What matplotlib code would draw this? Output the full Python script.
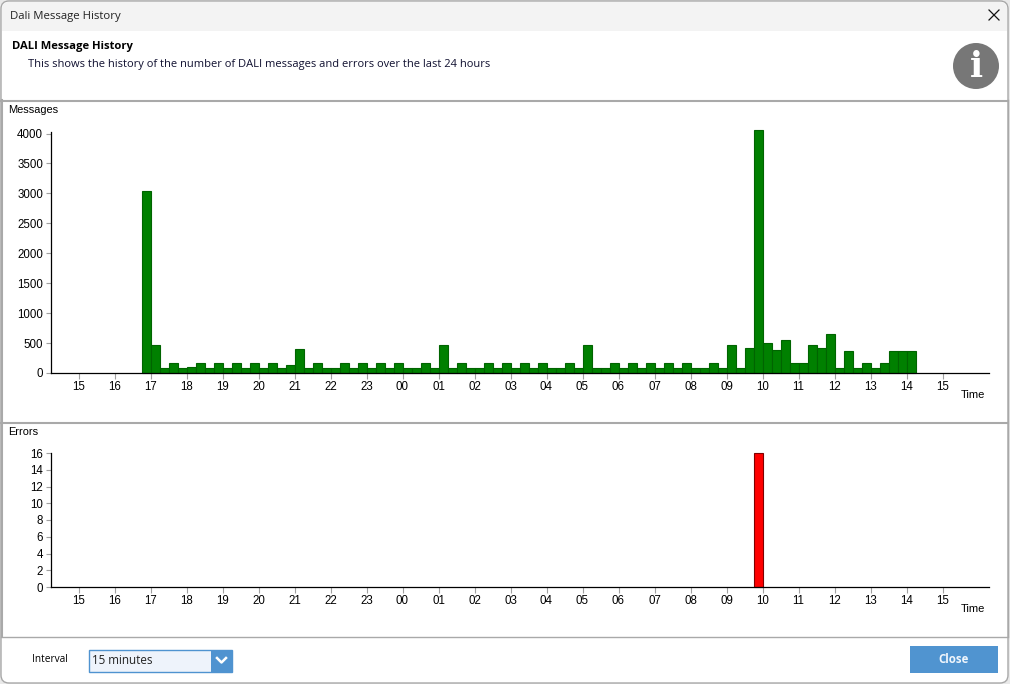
import matplotlib
matplotlib.use('Agg')
import matplotlib.pyplot as plt
from matplotlib.patches import Circle, FancyBboxPatch, Rectangle

# one value per 15 minute slot, first slot starts at 16:45
start_hour = 16.75
slot = 0.25
messages = [3040, 460, 80, 160, 80, 100, 160, 80, 160, 80, 160, 80, 160, 80, 160, 80,
            130, 400, 80, 160, 80, 80, 160, 80, 160, 80, 160, 80, 160, 80, 80, 160,
            80, 460, 80, 160, 80, 80, 160, 80, 160, 80, 160, 80, 160, 80, 80, 160,
            80, 460, 80, 80, 160, 80, 160, 80, 160, 80, 160, 80, 160, 80, 80, 160,
            80, 460, 80, 410, 4060, 500, 380, 550, 160, 160, 470, 420, 650, 80, 370, 80,
            160, 80, 160, 370, 370, 370]
error_hour = [33.75]
error_count = [16]

hour_ticks = list(range(15, 40))
hour_labels = ['%02d' % (h % 24) for h in hour_ticks]
msg_ticks = [0, 500, 1000, 1500, 2000, 2500, 3000, 3500, 4000]
err_ticks = [0, 2, 4, 6, 8, 10, 12, 14, 16]

W, H = 1010, 684
plt.rcParams['font.family'] = ['Liberation Sans', 'DejaVu Sans']
UI = ['Open Sans', 'DejaVu Sans']

fig = plt.figure(figsize=(W / 100, H / 100), dpi=100, facecolor='#e9e9e9')

# window chrome, in pixel coordinates
bg = fig.add_axes([0, 0, 1, 1])
bg.set_xlim(0, W)
bg.set_ylim(H, 0)
bg.axis('off')
bg.add_patch(FancyBboxPatch((1, 1), 1007, 682, boxstyle='round,pad=0,rounding_size=8',
                            fc='white', ec='#a8a8a8', lw=1))
bg.add_patch(FancyBboxPatch((2, 2), 1005, 29, boxstyle='round,pad=0,rounding_size=7',
                            fc='#f3f3f3', ec='none'))
bg.add_patch(Rectangle((2, 15), 1005, 16, fc='#f3f3f3', ec='none'))
bg.text(9.5, 16.5, 'Dali Message History', fontsize=8.2, family=UI, color='#222222', va='center')
bg.plot([989, 999], [10, 20], color='#111111', lw=0.9)
bg.plot([989, 999], [20, 10], color='#111111', lw=0.9)
bg.text(12, 46, 'DALI Message History', fontsize=8.1, family=UI, fontweight='bold', color='black', va='center')
bg.text(28, 64, 'This shows the history of the number of DALI messages and errors over the last 24 hours',
        fontsize=8.03, family=UI, color='#101030', va='center')
bg.add_patch(Circle((976, 66), 23, fc='#777777', ec='none'))
bg.text(976, 67, 'i', fontsize=25, family='DejaVu Serif', fontweight='bold', color='white', ha='center', va='center')

# panel separators
for y, lw in [(100.5, 1.5), (422.5, 1.5), (636.5, 1)]:
    bg.plot([1, 1008], [y, y], color='#a9a9a9', lw=lw)
bg.plot([1.5, 1.5], [100, 636], color='#a9a9a9', lw=1.5)
bg.plot([1007.5, 1007.5], [100, 636], color='#a9a9a9', lw=1)

bg.text(8, 110, 'Messages', fontsize=7.9, color='black', va='center')
bg.text(8, 432, 'Errors', fontsize=7.9, color='black', va='center')
bg.text(985, 395, 'Time', fontsize=8, color='black', ha='right', va='center')
bg.text(985, 609, 'Time', fontsize=8, color='black', ha='right', va='center')

# bottom controls
bg.text(32, 660, 'Interval', fontsize=7.3, family=UI, color='black', va='center')
bg.add_patch(Rectangle((88.5, 649.5), 143, 22, fc='#eef3fb', ec='#4f93d0', lw=1))
bg.add_patch(Rectangle((211, 649.5), 21, 22, fc='#4f93d0', ec='none'))
bg.plot([217, 221.5, 226], [658, 662.5, 658], color='white', lw=1.8)
bg.text(92, 660.5, '15 minutes', fontsize=8.4, family=UI, color='#222222', va='center')
bg.add_patch(Rectangle((910, 646), 88, 27, fc='#5094d0', ec='none'))
bg.text(954, 659.5, 'Close', fontsize=8.3, family=UI, fontweight='bold', color='#f0f6fc', ha='center', va='center')


def chart_axes(top, bottom):
    ax = fig.add_axes([51 / W, 1 - bottom / H, (989 - 51) / W, (bottom - top) / H])
    ax.patch.set_alpha(0)
    for side in ['top', 'right']:
        ax.spines[side].set_visible(False)
    for side in ['left', 'bottom']:
        ax.spines[side].set_color('black')
        ax.spines[side].set_linewidth(0.9)
    ax.set_xlim(15 - 27.5 / 36, 15 + (989 - 78.5) / 36)
    ax.set_xticks(hour_ticks)
    ax.set_xticklabels(hour_labels)
    ax.tick_params(axis='x', length=4.3, width=0.8, color='#a0a0a0', labelsize=8.3, pad=1.2)
    ax.tick_params(axis='y', length=3.6, width=0.8, color='#a0a0a0', labelsize=8.3, pad=2)
    return ax


# messages
ax1 = chart_axes(132, 373)
hours = [start_hour + i * slot for i in range(len(messages))]
bars = ax1.bar(hours, messages, width=slot, align='edge', color='#008000', edgecolor='#006400', linewidth=0.8)
for b in bars:
    b.set_clip_on(False)
ax1.set_ylim(0, 241 / (239.5 / 4000))
ax1.set_yticks(msg_ticks)

# errors
ax2 = chart_axes(453, 587)
bars = ax2.bar(error_hour, error_count, width=slot, align='edge', color='#ff0000', edgecolor='#800000', linewidth=0.8)
for b in bars:
    b.set_clip_on(False)
ax2.set_ylim(0, 16)
ax2.set_yticks(err_ticks)

fig.savefig('out.png', dpi=100, facecolor=fig.get_facecolor())
